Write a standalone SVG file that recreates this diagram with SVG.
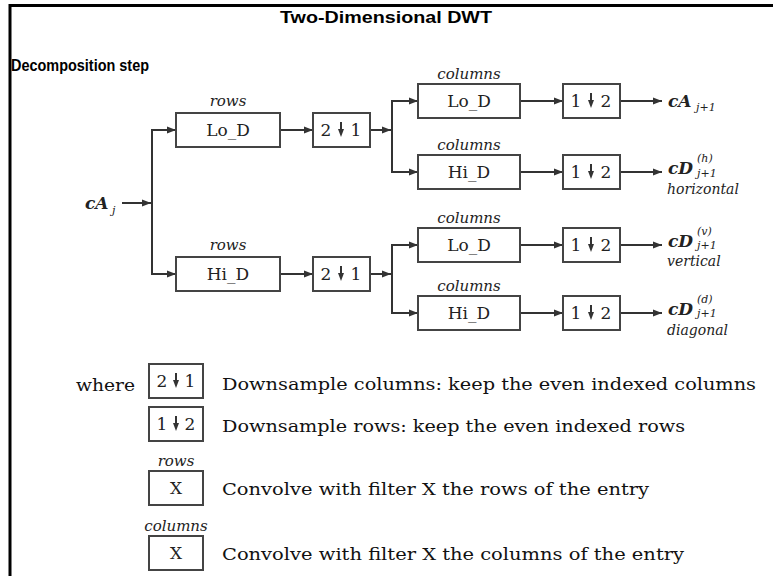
<svg xmlns="http://www.w3.org/2000/svg" width="773" height="576" viewBox="0 0 773 576">
  <defs>
    <marker id="ah" markerUnits="userSpaceOnUse" markerWidth="10" markerHeight="8" refX="9" refY="4" orient="auto">
      <path d="M0,0.5 L9,4 L0,7.5 Z" fill="#333"/>
    </marker>
    <!-- small bold down-arrow used inside the downsampling boxes -->
    <g id="down">
      <rect x="-1" y="-9" width="2" height="9" fill="#333"/>
      <path d="M-3,-2 L3,-2 L0,6 Z" fill="#333"/>
    </g>
  </defs>
  <style>
    .frame { stroke: #000; stroke-width: 3; fill: none; }
    .box { fill: #fff; stroke: #444; stroke-width: 2; }
    .wire { fill: none; stroke: #333; stroke-width: 2; }
    .arr { fill: none; stroke: #333; stroke-width: 2; marker-end: url(#ah); }
    .head { font-family: "Liberation Sans", Arial, sans-serif; font-weight: bold; font-size: 16px; fill: #000; }
    .lbl { font-family: "DejaVu Serif", "Liberation Serif", serif; font-size: 17px; fill: #222; text-anchor: middle; }
    .num { font-family: "DejaVu Serif", "Liberation Serif", serif; font-size: 17px; fill: #222; text-anchor: middle; }
    .it { font-family: "DejaVu Serif", "Liberation Serif", serif; font-style: italic; font-size: 15px; fill: #222; text-anchor: middle; }
    .out { font-family: "DejaVu Serif", "Liberation Serif", serif; font-style: italic; font-weight: bold; font-size: 17px; fill: #222; }
    .sub { font-family: "DejaVu Serif", "Liberation Serif", serif; font-style: italic; font-size: 11px; fill: #222; }
    .desc { font-family: "DejaVu Serif", "Liberation Serif", serif; font-style: italic; font-size: 14px; fill: #222; }
    .leg { font-family: "DejaVu Serif", "Liberation Serif", serif; font-size: 16px; fill: #111; }
  </style>

  <rect width="773" height="576" fill="#fff"/>

  <!-- frame -->
  <path class="frame" d="M10,576 L10,5.5 L773,5.5"/>

  <!-- headings -->
  <text class="head" x="386" y="23" text-anchor="middle" textLength="212" lengthAdjust="spacingAndGlyphs">Two-Dimensional DWT</text>
  <text class="head" x="11" y="71" textLength="138" lengthAdjust="spacingAndGlyphs">Decomposition step</text>

  <!-- connectors -->
  <g id="connectors">
    <line class="arr" x1="122" y1="203" x2="151" y2="203"/>
    <line class="wire" x1="152" y1="129" x2="152" y2="275"/>
    <line class="arr" x1="151" y1="130" x2="176" y2="130"/>
    <line class="arr" x1="151" y1="274" x2="176" y2="274"/>
    <line class="arr" x1="280" y1="130" x2="313" y2="130"/>
    <line class="arr" x1="280" y1="274" x2="313" y2="274"/>
    <line class="arr" x1="370" y1="130" x2="391" y2="130"/>
    <line class="arr" x1="370" y1="274" x2="391" y2="274"/>
    <line class="wire" x1="392" y1="100" x2="392" y2="173"/>
    <line class="wire" x1="392" y1="244" x2="392" y2="314"/>
    <line class="arr" x1="391" y1="101" x2="418" y2="101"/>
    <line class="arr" x1="391" y1="172" x2="418" y2="172"/>
    <line class="arr" x1="391" y1="245" x2="418" y2="245"/>
    <line class="arr" x1="391" y1="313" x2="418" y2="313"/>
    <line class="arr" x1="520" y1="101" x2="563" y2="101"/>
    <line class="arr" x1="520" y1="172" x2="563" y2="172"/>
    <line class="arr" x1="520" y1="245" x2="563" y2="245"/>
    <line class="arr" x1="520" y1="313" x2="563" y2="313"/>
    <line class="arr" x1="620" y1="101" x2="662" y2="101"/>
    <line class="arr" x1="620" y1="172" x2="662" y2="172"/>
    <line class="arr" x1="620" y1="245" x2="662" y2="245"/>
    <line class="arr" x1="620" y1="313" x2="662" y2="313"/>
  </g>

  <!-- input -->
  <g id="input">
    <text class="out" x="85" y="209">cA</text>
    <text class="sub" x="112" y="214">j</text>
  </g>

  <!-- row filters -->
  <g id="rows-lo">
    <text class="it" x="228" y="106">rows</text>
    <rect class="box" x="176" y="113" width="104" height="34"/>
    <text class="lbl" x="228" y="136">Lo_D</text>
  </g>
  <g id="rows-hi">
    <text class="it" x="228" y="250">rows</text>
    <rect class="box" x="176" y="257" width="104" height="34"/>
    <text class="lbl" x="228" y="280">Hi_D</text>
  </g>

  <!-- column downsampling after rows -->
  <g id="ds-col-1">
    <rect class="box" x="313" y="113" width="57" height="34"/>
    <text class="num" x="326" y="136">2</text>
    <use href="#down" x="341" y="131"/>
    <text class="num" x="356" y="136">1</text>
  </g>
  <g id="ds-col-2">
    <rect class="box" x="313" y="257" width="57" height="34"/>
    <text class="num" x="326" y="280">2</text>
    <use href="#down" x="341" y="275"/>
    <text class="num" x="356" y="280">1</text>
  </g>

  <!-- column filters -->
  <g id="cols-lo-a">
    <text class="it" x="469" y="79">columns</text>
    <rect class="box" x="418" y="84" width="102" height="34"/>
    <text class="lbl" x="469" y="107">Lo_D</text>
  </g>
  <g id="cols-hi-a">
    <text class="it" x="469" y="150">columns</text>
    <rect class="box" x="418" y="155" width="102" height="34"/>
    <text class="lbl" x="469" y="178">Hi_D</text>
  </g>
  <g id="cols-lo-b">
    <text class="it" x="469" y="223">columns</text>
    <rect class="box" x="418" y="228" width="102" height="34"/>
    <text class="lbl" x="469" y="251">Lo_D</text>
  </g>
  <g id="cols-hi-b">
    <text class="it" x="469" y="291">columns</text>
    <rect class="box" x="418" y="296" width="102" height="34"/>
    <text class="lbl" x="469" y="319">Hi_D</text>
  </g>

  <!-- row downsampling -->
  <g id="ds-row-1">
    <rect class="box" x="563" y="84" width="57" height="34"/>
    <text class="num" x="576" y="107">1</text>
    <use href="#down" x="591" y="102"/>
    <text class="num" x="606" y="107">2</text>
  </g>
  <g id="ds-row-2">
    <rect class="box" x="563" y="155" width="57" height="34"/>
    <text class="num" x="576" y="178">1</text>
    <use href="#down" x="591" y="173"/>
    <text class="num" x="606" y="178">2</text>
  </g>
  <g id="ds-row-3">
    <rect class="box" x="563" y="228" width="57" height="34"/>
    <text class="num" x="576" y="251">1</text>
    <use href="#down" x="591" y="246"/>
    <text class="num" x="606" y="251">2</text>
  </g>
  <g id="ds-row-4">
    <rect class="box" x="563" y="296" width="57" height="34"/>
    <text class="num" x="576" y="319">1</text>
    <use href="#down" x="591" y="314"/>
    <text class="num" x="606" y="319">2</text>
  </g>

  <!-- outputs -->
  <g id="out-a">
    <text class="out" x="668" y="107">cA</text>
    <text class="sub" x="696" y="111">j+1</text>
  </g>
  <g id="out-h">
    <text class="out" x="668" y="174">cD</text>
    <text class="sub" x="697" y="162">(h)</text>
    <text class="sub" x="697" y="177">j+1</text>
    <text class="desc" x="667" y="194">horizontal</text>
  </g>
  <g id="out-v">
    <text class="out" x="668" y="247">cD</text>
    <text class="sub" x="697" y="235">(v)</text>
    <text class="sub" x="697" y="249">j+1</text>
    <text class="desc" x="667" y="266">vertical</text>
  </g>
  <g id="out-d">
    <text class="out" x="668" y="315">cD</text>
    <text class="sub" x="697" y="303">(d)</text>
    <text class="sub" x="697" y="317">j+1</text>
    <text class="desc" x="667" y="335">diagonal</text>
  </g>

  <!-- legend -->
  <g id="legend">
    <text class="leg" x="76" y="391" textLength="59" lengthAdjust="spacingAndGlyphs">where</text>

    <g id="legend-ds-col">
      <rect class="box" x="149" y="364" width="54" height="34"/>
      <text class="num" x="162" y="387">2</text>
      <use href="#down" x="176" y="382"/>
      <text class="num" x="190" y="387">1</text>
      <text class="leg" x="222" y="390" textLength="534" lengthAdjust="spacingAndGlyphs">Downsample columns: keep the even indexed columns</text>
    </g>

    <g id="legend-ds-row">
      <rect class="box" x="149" y="407" width="54" height="34"/>
      <text class="num" x="162" y="430">1</text>
      <use href="#down" x="176" y="425"/>
      <text class="num" x="190" y="430">2</text>
      <text class="leg" x="222" y="432" textLength="463" lengthAdjust="spacingAndGlyphs">Downsample rows: keep the even indexed rows</text>
    </g>

    <g id="legend-rows">
      <text class="it" x="176" y="466">rows</text>
      <rect class="box" x="149" y="471" width="54" height="34"/>
      <text class="num" x="176" y="494">X</text>
      <text class="leg" x="222" y="495" textLength="427" lengthAdjust="spacingAndGlyphs">Convolve with filter X the rows of the entry</text>
    </g>

    <g id="legend-cols">
      <text class="it" x="176" y="531">columns</text>
      <rect class="box" x="149" y="536" width="54" height="34"/>
      <text class="num" x="176" y="559">X</text>
      <text class="leg" x="222" y="560" textLength="462" lengthAdjust="spacingAndGlyphs">Convolve with filter X the columns of the entry</text>
    </g>
  </g>
</svg>
